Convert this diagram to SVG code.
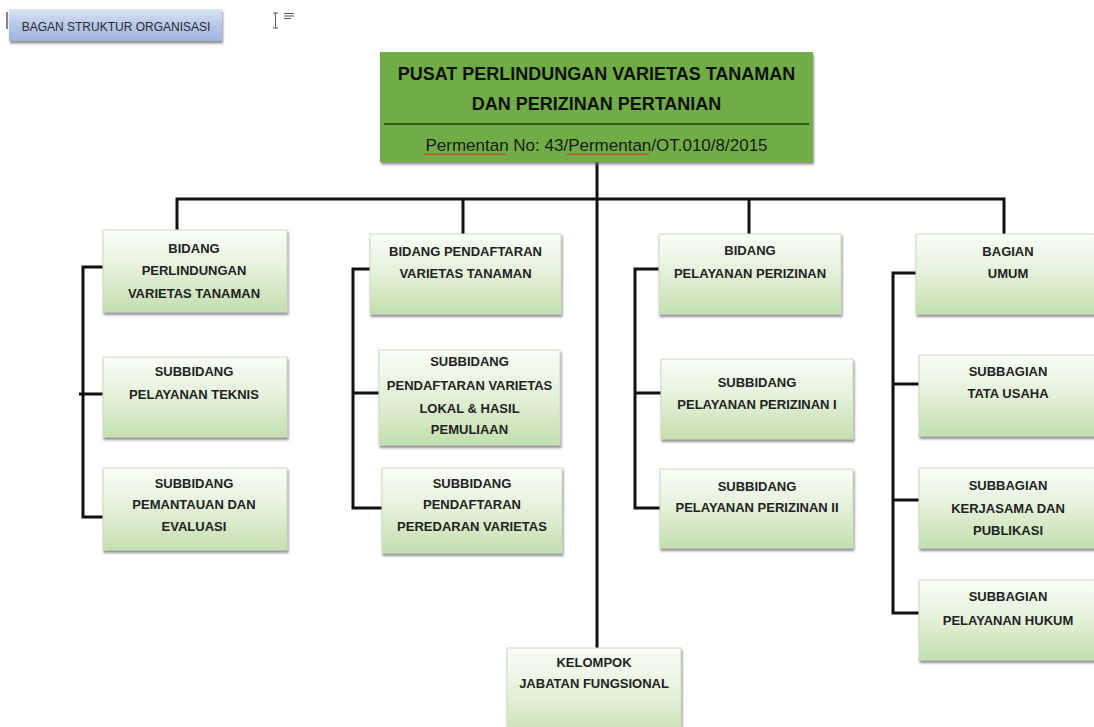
<svg xmlns="http://www.w3.org/2000/svg" width="1094" height="727" viewBox="0 0 1094 727">
<defs>
<linearGradient id="boxg" x1="0" y1="0" x2="0" y2="1">
<stop offset="0" stop-color="#fafdf7"/>
<stop offset="0.45" stop-color="#e6f2dc"/>
<stop offset="1" stop-color="#c3dfae"/>
</linearGradient>
<linearGradient id="btng" x1="0" y1="0" x2="0" y2="1">
<stop offset="0" stop-color="#d9e3f4"/>
<stop offset="0.5" stop-color="#b7c8e8"/>
<stop offset="1" stop-color="#9fb4de"/>
</linearGradient>
<filter id="sh" x="-5%" y="-5%" width="115%" height="125%">
<feDropShadow dx="1" dy="2.5" stdDeviation="1" flood-color="#6b6b6b" flood-opacity="0.75"/>
</filter>
</defs>
<style>
.box{fill:url(#boxg);stroke:#cfdcc4;stroke-width:1;filter:url(#sh)}
.t{font-family:"Liberation Sans",Arial,sans-serif;font-weight:bold;font-size:13px;fill:#222;text-anchor:middle}
.ln{fill:none;stroke:#111;stroke-width:3;stroke-linejoin:miter}
.sq{fill:none;stroke:#e0302a;stroke-width:1}
</style>
<rect width="1094" height="727" fill="#ffffff"/>

<g id="button">
<line x1="7" y1="12" x2="7" y2="29" stroke="#333" stroke-width="1.2"/>
<rect x="9" y="9" width="213" height="32" fill="url(#btng)" filter="url(#sh)"/>
<text x="116" y="31" style="font-family:'Liberation Sans',Arial,sans-serif;font-size:12px;fill:#2b2b2b;text-anchor:middle">BAGAN STRUKTUR ORGANISASI</text>
</g>
<g id="cursor" stroke="#555" stroke-width="1" fill="none">
<path d="M273 13 H278 M275.5 13 V28 M273 28 H278"/>
<path d="M284 13.5 H294 M284 16 H294 M284 18.5 H291"/>
</g>

<g id="connectors">
<path class="ln" d="M597 162 V648"/>
<path class="ln" d="M177 230 V199 H1004 V234"/>
<path class="ln" d="M463 199 V234"/>
<path class="ln" d="M749 199 V234"/>
<path class="ln" d="M103 267 H83 V517 H103 M79 394 H103"/>
<path class="ln" d="M370 269 H353 V508 H382 M353 393 H379"/>
<path class="ln" d="M659 269 H635 V508 H660 M635 393 H661"/>
<path class="ln" d="M916 273 H893 V613 H919 M893 384 H919 M893 500 H919"/>
</g>

<g id="header">
<rect x="380" y="52" width="433" height="110" fill="#70ad47" filter="url(#sh)"/>
<line x1="384" y1="124" x2="809" y2="124" stroke="#1d3a10" stroke-width="1.5"/>
<text x="596.5" y="79.5" style="font-family:'Liberation Sans',Arial,sans-serif;font-weight:bold;font-size:18px;fill:#111;text-anchor:middle">PUSAT PERLINDUNGAN VARIETAS TANAMAN</text>
<text x="596.5" y="109.5" style="font-family:'Liberation Sans',Arial,sans-serif;font-weight:bold;font-size:18px;fill:#111;text-anchor:middle">DAN PERIZINAN PERTANIAN</text>
<text x="596.5" y="151" style="font-family:'Liberation Sans',Arial,sans-serif;font-size:17px;fill:#1a1a1a;text-anchor:middle">Permentan No: 43/Permentan/OT.010/8/2015</text>
<path class="sq" d="M424 155 l2 -1.5 l2 1.5 l2 -1.5 l2 1.5 l2 -1.5 l2 1.5 l2 -1.5 l2 1.5 l2 -1.5 l2 1.5 l2 -1.5 l2 1.5 l2 -1.5 l2 1.5 l2 -1.5 l2 1.5 l2 -1.5 l2 1.5 l2 -1.5 l2 1.5 l2 -1.5 l2 1.5 l2 -1.5 l2 1.5 l2 -1.5 l2 1.5 l2 -1.5 l2 1.5 l2 -1.5 l2 1.5 l2 -1.5 l2 1.5 l2 -1.5 l2 1.5 l2 -1.5 l2 1.5 l2 -1.5 l2 1.5 l2 -1.5 l2 1.5 l2 -1.5"/>
<path class="sq" d="M567 155 l2 -1.5 l2 1.5 l2 -1.5 l2 1.5 l2 -1.5 l2 1.5 l2 -1.5 l2 1.5 l2 -1.5 l2 1.5 l2 -1.5 l2 1.5 l2 -1.5 l2 1.5 l2 -1.5 l2 1.5 l2 -1.5 l2 1.5 l2 -1.5 l2 1.5 l2 -1.5 l2 1.5 l2 -1.5 l2 1.5 l2 -1.5 l2 1.5 l2 -1.5 l2 1.5 l2 -1.5 l2 1.5 l2 -1.5 l2 1.5 l2 -1.5 l2 1.5 l2 -1.5 l2 1.5 l2 -1.5 l2 1.5 l2 -1.5 l2 1.5 l2 -1.5"/>
</g>

<g id="bidang-pvt">
<rect class="box" x="103" y="230" width="184" height="82"/>
<text class="t" x="194" y="253">BIDANG</text>
<text class="t" x="194" y="275">PERLINDUNGAN</text>
<text class="t" x="194" y="298">VARIETAS TANAMAN</text>
</g>
<g id="subbidang-teknis">
<rect class="box" x="103" y="357" width="184" height="80"/>
<text class="t" x="194" y="376">SUBBIDANG</text>
<text class="t" x="194" y="399">PELAYANAN TEKNIS</text>
</g>
<g id="subbidang-pemantauan">
<rect class="box" x="103" y="468" width="184" height="82"/>
<text class="t" x="194" y="488">SUBBIDANG</text>
<text class="t" x="194" y="509">PEMANTAUAN DAN</text>
<text class="t" x="194" y="531">EVALUASI</text>
</g>

<g id="bidang-pendaftaran">
<rect class="box" x="370" y="234" width="191" height="80"/>
<text class="t" x="465.5" y="256">BIDANG PENDAFTARAN</text>
<text class="t" x="465.5" y="278">VARIETAS TANAMAN</text>
</g>
<g id="subbidang-lokal">
<rect class="box" x="379" y="350" width="181" height="95"/>
<text class="t" x="469.5" y="366">SUBBIDANG</text>
<text class="t" x="469.5" y="390">PENDAFTARAN VARIETAS</text>
<text class="t" x="469.5" y="413">LOKAL &amp; HASIL</text>
<text class="t" x="469.5" y="434">PEMULIAAN</text>
</g>
<g id="subbidang-peredaran">
<rect class="box" x="382" y="468" width="180" height="85"/>
<text class="t" x="472" y="488">SUBBIDANG</text>
<text class="t" x="472" y="509">PENDAFTARAN</text>
<text class="t" x="472" y="531">PEREDARAN VARIETAS</text>
</g>

<g id="bidang-perizinan">
<rect class="box" x="659" y="234" width="182" height="80"/>
<text class="t" x="750" y="255">BIDANG</text>
<text class="t" x="750" y="278">PELAYANAN PERIZINAN</text>
</g>
<g id="subbidang-perizinan-1">
<rect class="box" x="661" y="359" width="192" height="80"/>
<text class="t" x="757" y="387">SUBBIDANG</text>
<text class="t" x="757" y="409">PELAYANAN PERIZINAN I</text>
</g>
<g id="subbidang-perizinan-2">
<rect class="box" x="660" y="469" width="193" height="79"/>
<text class="t" x="757" y="491">SUBBIDANG</text>
<text class="t" x="757" y="512">PELAYANAN PERIZINAN II</text>
</g>

<g id="bagian-umum">
<rect class="box" x="916" y="234" width="184" height="80"/>
<text class="t" x="1008" y="256">BAGIAN</text>
<text class="t" x="1008" y="278">UMUM</text>
</g>
<g id="subbagian-tu">
<rect class="box" x="919" y="355" width="181" height="81"/>
<text class="t" x="1008" y="376">SUBBAGIAN</text>
<text class="t" x="1008" y="398">TATA USAHA</text>
</g>
<g id="subbagian-kerjasama">
<rect class="box" x="919" y="468" width="181" height="80"/>
<text class="t" x="1008" y="490">SUBBAGIAN</text>
<text class="t" x="1008" y="513">KERJASAMA DAN</text>
<text class="t" x="1008" y="535">PUBLIKASI</text>
</g>
<g id="subbagian-hukum">
<rect class="box" x="919" y="580" width="181" height="80"/>
<text class="t" x="1008" y="601">SUBBAGIAN</text>
<text class="t" x="1008" y="625">PELAYANAN HUKUM</text>
</g>

<g id="kelompok-jf">
<rect class="box" x="507" y="648" width="174" height="95"/>
<text class="t" x="594" y="667">KELOMPOK</text>
<text class="t" x="594" y="688">JABATAN FUNGSIONAL</text>
</g>
</svg>
